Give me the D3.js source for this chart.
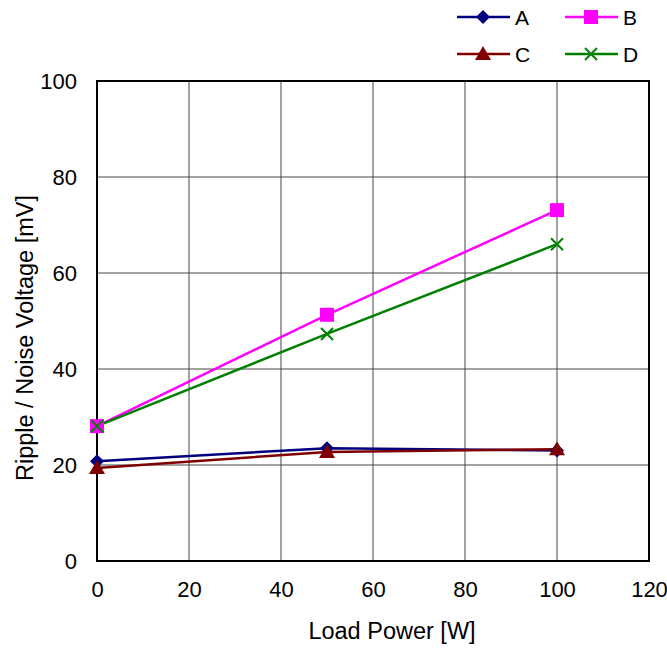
<!DOCTYPE html>
<html lang="en">
<head>
<meta charset="UTF-8">
<title>Ripple / Noise Voltage</title>
<script src="https://d3js.org/d3.v7.min.js"></script>
<style>
  body { margin: 0; background: #fff; }
  text { font-family: "Liberation Sans", Arial, sans-serif; }
</style>
</head>
<body>
<svg id="chart" width="667" height="648"></svg>
<script>
// data
const loadPower = [0, 50, 100];
const seriesA = [20.8, 23.5, 23.0];
const seriesB = [28.1, 51.3, 73.1];
const seriesC = [19.4, 22.7, 23.3];
const seriesD = [28.1, 47.3, 66.0];
const xTicks = [0, 20, 40, 60, 80, 100, 120];
const yTicks = [0, 20, 40, 60, 80, 100];

const series = [
  { name: 'A', values: seriesA, color: '#000080', marker: 'diamond' },
  { name: 'B', values: seriesB, color: '#ff00ff', marker: 'square' },
  { name: 'C', values: seriesC, color: '#800000', marker: 'triangle' },
  { name: 'D', values: seriesD, color: '#008000', marker: 'cross' }
];

const margin = { top: 81, right: 18, bottom: 87, left: 97 };
const width = 667 - margin.left - margin.right;
const height = 648 - margin.top - margin.bottom;

const svg = d3.select('#chart');
const g = svg.append('g').attr('transform', `translate(${margin.left},${margin.top})`);

const x = d3.scaleLinear().domain([0, 120]).range([0, width]);
const y = d3.scaleLinear().domain([0, 100]).range([height, 0]);

// grid
g.append('g').selectAll('line').data(xTicks.slice(1, -1)).join('line')
  .attr('x1', d => x(d)).attr('x2', d => x(d))
  .attr('y1', 0).attr('y2', height)
  .attr('stroke', '#444').attr('stroke-width', 1);
g.append('g').selectAll('line').data(yTicks.slice(1, -1)).join('line')
  .attr('y1', d => y(d)).attr('y2', d => y(d))
  .attr('x1', 0).attr('x2', width)
  .attr('stroke', '#444').attr('stroke-width', 1);

// axes (labels only, no ticks)
const xAxis = g.append('g')
  .attr('transform', `translate(0,${height})`)
  .call(d3.axisBottom(x).tickValues(xTicks).tickSize(0).tickPadding(20));
const yAxis = g.append('g')
  .call(d3.axisLeft(y).tickValues(yTicks).tickSize(0).tickPadding(20));
[xAxis, yAxis].forEach(a => {
  a.select('.domain').remove();
  a.selectAll('text').attr('font-size', 22).attr('fill', '#000')
    .attr('font-family', '"Liberation Sans", Arial, sans-serif');
});

// plot border
g.append('rect').attr('width', width).attr('height', height)
  .attr('fill', 'none').attr('stroke', '#000').attr('stroke-width', 2);

// axis titles
svg.append('text')
  .attr('x', 392).attr('y', 639)
  .attr('text-anchor', 'middle').attr('font-size', 23.5)
  .text('Load Power [W]');
svg.append('text')
  .attr('transform', `translate(33,338) rotate(-90)`)
  .attr('text-anchor', 'middle').attr('font-size', 23.5)
  .text('Ripple / Noise Voltage [mV]');

function drawMarker(sel, type, color) {
  if (type === 'diamond') {
    sel.append('path').attr('d', 'M0,-7L7,0L0,7L-7,0Z').attr('fill', color);
  } else if (type === 'square') {
    sel.append('rect').attr('x', -7).attr('y', -7).attr('width', 14).attr('height', 14).attr('fill', color);
  } else if (type === 'triangle') {
    sel.append('path').attr('d', 'M0,-8L8,6L-8,6Z').attr('fill', color);
  } else {
    sel.append('path').attr('d', 'M-6,-6L6,6M-6,6L6,-6').attr('stroke', color).attr('stroke-width', 2).attr('fill', 'none');
  }
}

const line = d3.line().x((d, i) => x(loadPower[i])).y(d => y(d));

series.forEach(s => {
  g.append('path').datum(s.values)
    .attr('d', line).attr('fill', 'none')
    .attr('stroke', s.color).attr('stroke-width', 2.5);
});
series.forEach(s => {
  s.values.forEach((v, i) => {
    const m = g.append('g').attr('transform', `translate(${x(loadPower[i])},${y(v)})`);
    drawMarker(m, s.marker, s.color);
  });
});

// legend
const legendPos = [[457, 17], [565, 17], [457, 54], [565, 54]];
series.forEach((s, i) => {
  const [lx, ly] = legendPos[i];
  const lg = svg.append('g').attr('transform', `translate(${lx},${ly})`);
  lg.append('line').attr('x1', 0).attr('x2', 53).attr('y1', 0).attr('y2', 0)
    .attr('stroke', s.color).attr('stroke-width', 2.5);
  const m = lg.append('g').attr('transform', 'translate(26,0)');
  drawMarker(m, s.marker, s.color);
  lg.append('text').attr('x', 58).attr('y', 8).attr('font-size', 21).text(s.name);
});
</script>
</body>
</html>
